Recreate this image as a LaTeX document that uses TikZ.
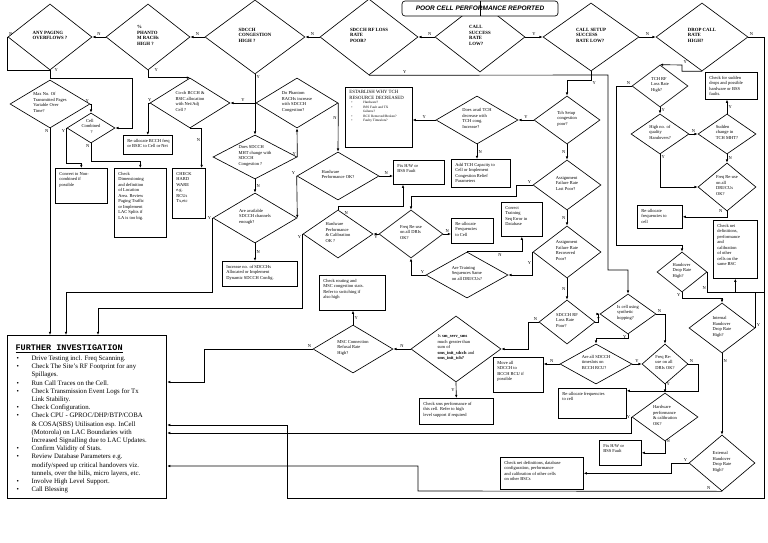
\documentclass[tikz,border=0pt]{standalone}
\usepackage{fontspec}
\setmainfont{Liberation Serif}
\setsansfont{Liberation Sans}
\setmonofont{Liberation Mono}
\usepackage{tikz}
\usetikzlibrary{shapes.geometric,arrows.meta,calc}
\newcommand{\smallfs}{\fontsize{4.5}{5.5}\selectfont}
\newcommand{\dtx}[1]{\makebox[0pt]{\smash{\begin{tabular}{@{}l@{}}#1\end{tabular}}}}
\newcommand{\btx}[3]{\begin{minipage}[c][#2pt][t]{#1pt}\begin{tabular}[t]{@{}l@{}}#3\end{tabular}\end{minipage}}

\begin{document}
\begin{tikzpicture}[x=1pt,y=-1pt,line width=0.65pt,
  dia/.style={draw,diamond,inner sep=0pt,font=\smallfs},
  hdia/.style={dia,font=\fontsize{4.8}{5.8}\selectfont\bfseries},
  ds/.style 2 args={minimum width=#1pt,minimum height=#2pt},
  box/.style={draw,rectangle,anchor=north west,inner xsep=4pt,inner ysep=3pt,font=\smallfs},
  yn/.style={font=\fontsize{4.5}{5}\selectfont,inner sep=1.2pt},
  arr/.style={-{Latex[length=3.2pt,width=2.6pt]}}]
\useasboundingbox[fill=white] (0,0) rectangle (768,543);
%
\node[hdia,ds={84}{66}] (anypg) at (50,37) {\dtx{ANY PAGING\\OVERFLOWS ?}};
\node[hdia,ds={84}{66}] (phant) at (148,37) {\dtx{\%\\PHANTO\\M RACHs\\HIGH ?}};
\node[hdia,ds={100}{74}] (sdcong) at (255,37) {\dtx{SDCCH\\CONGESTION\\HIGH ?}};
\node[hdia,ds={98}{76}] (rfloss) at (369,37) {\dtx{SDCCH RF LOSS\\RATE\\POOR?}};
\node[hdia,ds={90}{70}] (callsr) at (480,37) {\dtx{CALL\\SUCCESS\\RATE\\LOW?}};
\node[hdia,ds={96}{68}] (setup) at (591,37) {\dtx{CALL SETUP\\SUCCESS\\RATE LOW?}};
\node[hdia,ds={92}{68}] (drop) at (702,37) {\dtx{DROP CALL\\RATE\\HIGH?}};
\node[draw,rounded corners=3pt,fill=white,minimum width=156pt,minimum height=15pt,inner sep=0pt,
  font=\sffamily\bfseries\itshape\fontsize{6.5}{7}\selectfont] (tbox) at (480,8.5) {POOR CELL PERFORMANCE REPORTED};
\draw (tbox.north) -- (tbox.south);
%
\node[dia,ds={80}{48}] (maxpg) at (50,104) {\dtx{Max No. Of\\Transmitted Pages\\Variable Over\\Time?}};
\node[dia,ds={48}{30}] (cellc) at (91,128) {\dtx{\quad Cell\\Combined\\\qquad ?}};
\node[dia,ds={80}{50}] (coch) at (190,103) {\dtx{Co-ch BCCH \&\\BSIC allocation\\with Nei/Adj\\Cell ?}};
\node[dia,ds={82}{50}] (dophr) at (297,103) {\dtx{Do Phantom\\RACHs increase\\with SDCCH\\Congestion?}};
\node[dia,ds={84}{44}] (dohmt) at (255,157) {\dtx{Does SDCCH\\MHT change with\\SDCCH\\Congestion ?}};
\node[dia,ds={84}{50}] (avail) at (255,218) {\dtx{Are available\\SDCCH channels\\enough?}};
\node[dia,ds={82}{48}] (hwok) at (338,176) {\dtx{Hardware\\Performance OK?}};
\node[dia,ds={70}{48}] (hwcal) at (338,234) {\dtx{Hardware\\Performance\\\& Calibration\\OK ?}};
\node[dia,ds={64}{48}] (frqmid) at (411,234) {\dtx{Freq Re-use\\on all DRIs\\OK?}};
\node[dia,ds={82}{46}] (trseq) at (467,275) {\dtx{Are Training\\Sequences Same\\on all DRI/CUs?}};
\node[dia,ds={82}{48}] (dotch) at (477,120) {\dtx{Does avail TCH\\decrease with\\TCH cong.\\Increase?}};
\node[dia,ds={66}{48}] (tchcg) at (567,120) {\dtx{Tch Setup\\congestion\\poor?}};
\node[dia,ds={68}{50}] (asglast) at (567,185) {\dtx{Assignment\\Failure Rate\\Last Poor?}};
\node[dia,ds={68}{52}] (asgrec) at (567,252) {\dtx{Assignment\\Failure Rate\\Recovered\\Poor?}};
\node[dia,ds={56}{44}] (sdrfl) at (567,322) {\dtx{SDCCH RF\\Loss Rate\\Poor?}};
\node[dia,ds={90}{66}] (smsd) at (456,349) {\dtx{Is \textbf{sm\_serv\_sms}\\much greater than\\sum of\\\textbf{sms\_init\_sdcch} and\\\textbf{sms\_init\_tch?}}};
\node[dia,ds={80}{48}] (mscr) at (353,349) {\dtx{MSC Connection\\Refusal Rate\\High?}};
\node[dia,ds={56}{42}] (tchrf) at (660,86) {\dtx{TCH RF\\Loss Rate\\High?}};
\node[dia,ds={58}{40}] (qualho) at (660,134) {\dtx{High no. of\\quality\\Handovers?}};
\node[dia,ds={58}{40}] (sudden) at (727,134) {\dtx{Sudden\\change in\\TCH MHT?}};
\node[dia,ds={58}{48}] (frqdri) at (727,187) {\dtx{Freq Re-use\\on all\\DRI/CUs\\OK?}};
\node[dia,ds={50}{40}] (hodrop) at (682,272) {\dtx{Handover\\Drop Rate\\High?}};
\node[dia,ds={56}{40}] (hop) at (628,314) {\dtx{Is cell using\\synthetic\\hopping?}};
\node[dia,ds={66}{50}] (inho) at (722,328) {\dtx{Internal\\Handover\\Drop Rate\\High?}};
\node[dia,ds={72}{40}] (sdbcch) at (596,364) {\dtx{Are all SDCCH\\timeslots on\\BCCH RCU?}};
\node[dia,ds={46}{40}] (frqdri2) at (665,364) {\dtx{Freq Re-\\use on all\\DRIs OK?}};
\node[dia,ds={66}{48}] (hwcal2) at (665,417) {\dtx{Hardware\\performance\\\& calibration\\OK?}};
\node[dia,ds={66}{56}] (exho) at (722,463) {\dtx{External\\Handover\\Drop Rate\\High?}};
%
\node[box] (conv) at (55,168) {\btx{44}{29}{Convert to Non-\\combined if\\possible}};
\node[box] (dimen) at (114,168) {\btx{44}{63}{Check\\Dimensioning\\and definition\\of Location\\Area. Review\\Paging Traffic\\or Implement\\LAC Splits if\\LA is too big.}};
\node[box] (chkhw) at (172,168) {\btx{25}{44}{CHECK\\HARD\\WARE\\e.g.\\RCUs\\Tx,etc}};
\node[box] (realbcch) at (123,135) {\btx{41}{13}{Re-allocate BCCH freq\\or BSIC to Cell or Nei}};
\node[box] (incsd) at (222,261) {\btx{67}{19}{Increase no. of SDCCHs\\Allocated or Implement\\Dynamic SDCCH Config.}};
\node[box] (estab) at (345,87) {\begin{minipage}[c][54pt][t]{59pt}{\fontsize{4.8}{5.8}\selectfont ESTABLISH WHY TCH\\RESOURCE DECREASED\par}
  {\fontsize{3.4}{4.6}\selectfont\begin{tabular}{@{\hspace{2pt}}p{12pt}@{}l@{}}
  \textbullet & Hardware?\\ \textbullet & BSS Fault and TX\\ & failures?\\
  \textbullet & RCU Removed/Broken?\\ \textbullet & Faulty Timeslots?\end{tabular}}\end{minipage}};
\node[box] (fixhw1) at (393,160) {\btx{43}{18}{Fix H/W or\\BSS Fault}};
\node[box] (addtch) at (451,159) {\btx{51}{22}{Add TCH Capacity to\\Cell or Implement\\Congestion Relief\\Parameters}};
\node[box] (chkdrop) at (705,72) {\btx{44}{21}{Check for sudden\\drops and possible\\hardware or BSS\\faults.}};
\node[box] (realf1) at (637,205) {\btx{37}{17}{Re-allocate\\frequencies to\\cell}};
\node[box] (neisame) at (713,220) {\btx{36}{52}{Check nei\\definitions,\\performance\\and\\calibration\\of other\\cells on the\\same BSC}};
\node[box] (realf2) at (451,218) {\btx{34}{19}{Re-allocate\\Frequencies\\to Cell}};
\node[box] (corrts) at (501,202) {\btx{33}{28}{Correct\\Training\\Seq Error in\\Database}};
\node[box] (chkrt) at (319,275) {\btx{58}{29}{Check routing and\\MSC congestion stats.\\Refer to switching if\\also high}};
\node[box] (movesd) at (493,357) {\btx{42}{29}{Move all\\SDCCH to\\BCCH RCU if\\possible}};
\node[box] (chksms) at (419,398) {\btx{66}{20}{Check sms performance of\\this cell. Refer to high\\level support if required}};
\node[box] (realf3) at (558,388) {\btx{60}{24}{Re-allocate frequencies\\to cell}};
\node[box] (fixhw2) at (599,440) {\btx{34}{19}{Fix H/W or\\BSS Fault}};
\node[box] (neioth) at (500,457) {\btx{75}{26}{Check nei definitions, database\\configuration, performance\\and calibration of other cells\\on other BSCs}};
\node[draw,line width=1.1pt,anchor=north west,inner sep=0pt] (furth) at (7,335) {\begin{minipage}[c][163pt][t]{159pt}
  \vspace{9pt}\hspace{8pt}{\fontsize{8.5}{9}\selectfont\ttfamily\bfseries\underline{FURTHER INVESTIGATION}}\par\vspace{1.5pt}
  {\fontsize{6.8}{8.2}\selectfont\begin{tabular}{@{\hspace{9pt}}p{15pt}@{}l@{}}
  \textbullet & Drive Testing incl. Freq Scanning.\\
  \textbullet & Check The Site's RF Footprint for any\\ & Spillages.\\
  \textbullet & Run Call Traces on the Cell.\\
  \textbullet & Check Transmission Event Logs for Tx\\ & Link Stability.\\
  \textbullet & Check Configuration.\\
  \textbullet & Check CPU - GPROC/DHP/BTP/COBA\\ & \& COSA(SBS) Utilisation esp. InCell\\
   & (Motorola) on LAC Boundaries with\\ & Increased Signalling due to LAC Updates.\\
  \textbullet & Confirm Validity of Stats.\\
  \textbullet & Review Database Parameters e.g.\\ & modify/speed up critical handovers viz.\\
   & tunnels, over the hills, micro layers, etc.\\
  \textbullet & Involve High Level Support.\\
  \textbullet & Call Blessing
  \end{tabular}}\end{minipage}};
\coordinate (rail) at (764,292);
%
\draw[arr] (callsr.west) -- node[yn,above,pos=0.3]{N} (rfloss.east);
\draw[arr] (callsr.east) -- node[yn,above]{Y} (setup.west);
\draw[arr] (setup.east) -- node[yn,above]{N} (drop.west);
\draw[arr] (rfloss.west) -- node[yn,above]{N} (sdcong.east);
\draw[arr] (sdcong.west) -- node[yn,above]{N} (phant.east);
\draw[arr] (phant.west) -- node[yn,above]{N} (anypg.east);
\draw[arr] (drop.east) node[yn,above right]{N} -- (764,37) -- (764,498) -- (287,498) -- (287,425) -- ($(furth.north east)+(0,90)$);
\draw (anypg.west) node[yn,above right]{N} |- (anypg.south);
\draw[arr] (anypg.south) node[yn,right=3pt]{Y} -- ++(0,8) -- ++(82,0) |- (cellc.east);
\draw[arr] (maxpg.east) node[yn,above left]{Y} -| (cellc.north);
\draw[arr] (maxpg.south) node[yn,below left]{N} -- (maxpg.south |- furth.north);
\draw[arr] (cellc.west) node[yn,below left]{Y} -- ++(0,35) -| (conv.north);
\draw[arr] (cellc.south) node[yn,below left]{N} -- ++(0,18) -| (dimen.north);
\draw[arr] (phant.south) node[yn,right=5pt]{Y} |- (coch.north);
\draw[arr] (coch.west) node[yn,above]{Y} -| (realbcch.north);
\draw[arr] (coch.south) -| node[yn,pos=0.65,left]{N} ($(chkhw.north east)+(-4,0)$);
\draw[arr] (sdcong.south) node[yn,below right]{Y} -- (dohmt.north);
\draw[arr] (dophr.west) -- node[yn,above]{Y} (coch.east);
\draw[arr] (dophr.east) -- node[yn,pos=0.3,left]{N} (hwok.north);
\draw[arr] (dohmt.east) node[yn,above left]{Y} -- (dophr.south);
\draw[arr] (dohmt.south) -- node[yn,right]{N} (avail.north);
\draw[arr] (avail.south) -- node[yn,right]{N} (avail.south |- incsd.north);
\draw[arr] (avail.west) node[yn,left]{Y} |- (66,292) -- ($(furth.north west)+(59,0)$);
\draw[arr] (hwok.west) node[yn,above left]{Y} -- (avail.east);
\draw[arr] (hwok.east) -- node[yn,above]{N} (fixhw1.west |- hwok.east);
\draw[arr] (hwcal.west) node[yn,below left]{Y} |- (98,308) -- ($(furth.north west)+(91,0)$);
\draw[arr] (hwcal.north) node[yn,below right,xshift=5pt]{N} -- ++(0,-3) -| ($(fixhw1.south west)+(10,0)$);
\draw[arr] (frqmid.west) -- node[yn,below]{Y} (hwcal.east);
\draw[arr] (frqmid.east) -- node[yn,above]{N} (realf2.west |- frqmid.east);
\draw[arr] (trseq.west) node[yn,above left]{Y} -| (frqmid.south);
\draw[arr] (trseq.north) -| node[yn,below,pos=0.3]{N} (corrts.south);
\draw[arr] (asgrec.west) |- node[yn,pos=0.25,left]{Y} (trseq.east);
\draw[arr] (asglast.south) -- node[yn,left]{N} (asgrec.north);
\draw[arr] (asglast.west) node[yn,above left]{Y} -- ++(-16,0) -- ++(0,11) -| (frqmid.north);
\draw[arr] (tchcg.south) -- node[yn,left]{N} (asglast.north);
\draw[arr] (tchcg.west) -- node[yn,above]{Y} (dotch.east);
\draw[arr] (dotch.west) -- node[yn,above]{Y} (estab.east |- dotch.west);
\draw[arr] (dotch.south) -- node[yn,right]{N} (dotch.south |- addtch.north);
\draw[arr] (setup.south) -- ++(0,9) node[yn,below right]{Y} -| (tchcg.north);
\draw[arr] (rfloss.south) -- node[yn,above,pos=0.15]{Y} (608,75) -- (608,270) -| (hop.north);
\draw[arr] (drop.south) -| (682,65) node[yn,above right]{Y} -- (tchrf.north);
\draw[arr] (tchrf.south) -- node[yn,right]{Y} (qualho.north);
\draw[arr] (tchrf.west) node[yn,above left]{N} -- (616,86) |- (682,245) -- (hodrop.north);
\draw[arr] (qualho.east) -- node[yn,above]{N} (sudden.west);
\draw[arr] (sudden.north) -- node[yn,right]{Y} (sudden.north |- chkdrop.south);
\draw[arr] (sudden.south) -- node[yn,right]{N} (frqdri.north);
\draw[arr] (qualho.south) node[yn,below right]{Y} |- (frqdri.west);
\draw[arr] (frqdri.south) node[yn,left=3pt]{N} |- (realf1.east);
\draw[arr] (hodrop.south) node[yn,below left]{Y} -- ++(0,6) -| (inho.north);
\draw (hodrop.east) -- node[yn,left,pos=0.8]{N} ++(0,20) -- (rail);
\draw[arr] (inho.east) node[yn,above right]{Y} |- ($(neisame.south)+(0,14)$) -- (neisame.south);
\draw[arr] (inho.south) -- node[yn,right,pos=0.1]{N} (exho.north);
\draw[arr] (exho.west) node[yn,above left]{Y} -- ++(-17,0) |- (neioth.east);
\draw[arr] (exho.south) node[yn,above left,xshift=-10pt]{N} -- (418,491) |- ($(furth.north east)+(0,131)$);
\draw[arr] (hwcal2.west) node[yn,left]{Y} |- ($(furth.north east)+(0,98)$);
\draw[arr] (hwcal2.south) node[yn,right]{N} |- (fixhw2.east);
\draw[arr] (frqdri2.south) node[yn,right]{Y} -- (hwcal2.north);
\draw[arr] (frqdri2.east) node[yn,above right]{N} -- ++(10,0) |- (realf3.20);
\draw[arr] (sdbcch.east) -- node[yn,above]{Y} (frqdri2.west);
\draw[arr] (sdbcch.west) -- node[yn,above]{N} (movesd.east |- sdbcch.west);
\draw[arr] (hop.south) node[yn,below left]{Y} -- ++(0,4) -| (sdbcch.north);
\draw[arr] (hop.east) node[yn,above right]{N} -| (frqdri2.north);
\draw[arr] (sdrfl.east) node[yn,above right]{Y} -- ++(3,0) |- (hop.west);
\draw[arr] (sdrfl.west) node[yn,above left]{N} -- ++(-10,0) |- (smsd.east);
\draw[arr] (asgrec.south) -- node[yn,left]{N} (sdrfl.north);
\draw[arr] (smsd.west) -- node[yn,above]{N} (mscr.east);
\draw[arr] (smsd.south) -- node[yn,left]{Y} (chksms.north);
\draw[arr] (mscr.north) -- node[yn,right]{Y} (mscr.north |- chkrt.south);
\draw[arr] (mscr.west) node[yn,above left]{N} -- (204,349) |- ($(furth.north east)+(0,47)$);
\end{tikzpicture}
\end{document}
